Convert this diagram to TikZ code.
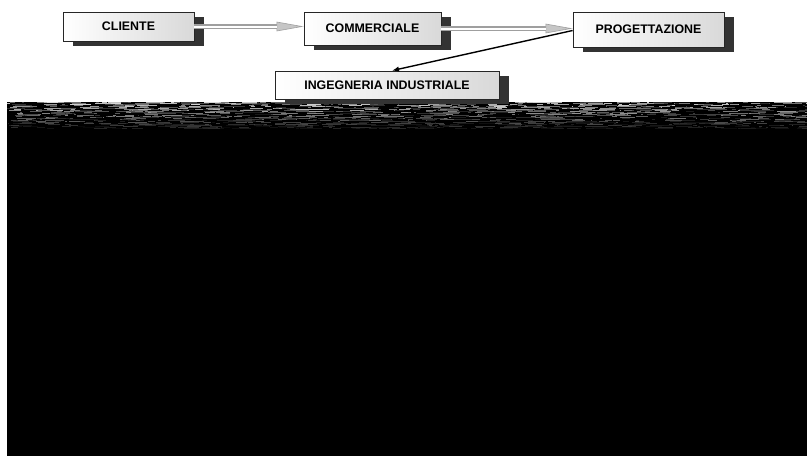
\documentclass[tikz,border=0pt]{standalone}
\usepackage{fontspec}
\setmainfont{Liberation Sans}
\usetikzlibrary{shadows,arrows.meta}
\begin{document}
\begin{tikzpicture}[x=1pt,y=-1pt,
  flowbox/.style={draw=black!85, line width=0.8pt, shading=axis,
    left color=white, right color=gray!30, shading angle=90,
    inner sep=0pt, font=\bfseries\fontsize{12.4}{14}\selectfont,
    drop shadow={shadow xshift=10pt, shadow yshift=-5pt, fill=black!80, opacity=1}},
  pipeout/.style={line width=4.4pt, draw=gray!75,
    -{Triangle[length=27pt,width=9.5pt,line width=0.6pt,fill=gray!45]}},
  pipein/.style={line width=2pt, draw=white, shorten >=27pt},
  linkarrow/.style={line width=1.4pt, draw=black, -{Latex[length=7pt,width=5.5pt]}}]
  % page
  \useasboundingbox[fill=white] (0,0) rectangle (807,456);

  % dark area with streaky band along its upper edge
  \fill[black] (7,102) rectangle (807,456);
  \pgfmathsetseed{7}
  \begin{scope}
    \clip (7,102) rectangle (807,130);
    \foreach \r in {0,...,26}{
      \foreach \k in {1,...,55}{
        \pgfmathsetmacro\xx{7+800*rnd}
        \pgfmathsetmacro\ll{1+18*rnd}
        \pgfmathtruncatemacro\gg{(15+75*rnd)*(1-\r/32)}
        \fill[white!\gg!black] (\xx,102+\r) rectangle ++(\ll,1);
      }
    }
  \end{scope}

  % boxes
  \node[flowbox, minimum width=131pt, minimum height=29pt] (cli) at (128.5,26.5) {CLIENTE};
  \node[flowbox, minimum width=137pt, minimum height=33pt] (com) at (372.5,28.5) {COMMERCIALE};
  \node[flowbox, minimum width=151pt, minimum height=35pt] (pro) at (648.5,29.5) {PROGETTAZIONE};
  \node[flowbox, minimum width=224pt, minimum height=28pt] (ing) at (387,85) {INGEGNERIA INDUSTRIALE};

  % hollow connectors
  \draw[pipeout] (cli.east) -- (cli.east -| com.west);
  \draw[pipein]  (cli.east) -- (cli.east -| com.west);
  \draw[pipeout] (com.east) -- (com.east -| pro.west);
  \draw[pipein]  (com.east) -- (com.east -| pro.west);

  % plain connector
  \draw[linkarrow] ([yshift=-1pt]pro.west) -- ([xshift=5pt]ing.north);
\end{tikzpicture}
\end{document}
